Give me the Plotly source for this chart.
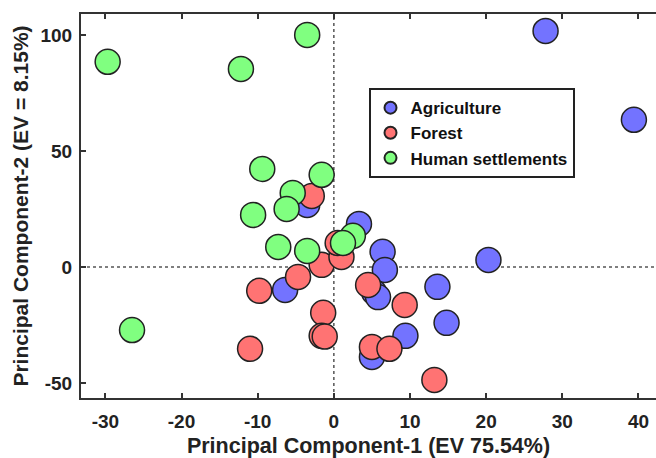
import plotly.graph_objects as go

# Agriculture
agri_x = [27.8, 39.4, 20.3, 13.6, 14.8, 9.4, 3.3, 6.4, 6.7, 5.3, 5.8, -6.4, 5.0, -3.5]
agri_y = [101.7, 63.4, 3.0, -8.6, -24.1, -29.7, 18.5, 6.5, -1.3, -11.0, -13.0, -9.9, -38.8, 26.7]

# Forest
forest_x = [-2.9, -1.6, 1.0, 0.5, -4.7, -9.8, 4.5, 9.3, -1.4, -1.6, -1.2, -11.0, 5.0, 7.3, 13.2]
forest_y = [30.6, 0.9, 4.3, 10.3, -4.3, -10.3, -7.8, -16.4, -19.8, -29.7, -30.0, -35.3, -34.5, -35.3, -48.7]

# Human settlements
human_x = [-29.7, -3.5, -12.2, -26.5, -9.4, -1.6, -5.4, -6.2, -10.6, -7.3, -3.5, 2.5, 1.2]
human_y = [88.4, 100.0, 85.3, -27.2, 42.2, 39.7, 31.9, 25.0, 22.4, 8.6, 6.9, 13.4, 10.3]

x_ticks = [-30, -20, -10, 0, 10, 20, 30, 40]
x_ticktext = ["-30", "-20", "-10", "0", "10", "20", "30", "40"]
y_ticks = [-50, 0, 50, 100]
y_ticktext = ["-50", "0", "50", "100"]

FONT = "Liberation Sans"

fig = go.Figure()
for name, xs, ys, col in [
    ("Agriculture", agri_x, agri_y, "#7373FF"),
    ("Forest", forest_x, forest_y, "#FF7373"),
    ("Human settlements", human_x, human_y, "#80FF80"),
]:
    fig.add_trace(go.Scatter(
        x=xs, y=ys, mode="markers", name=name,
        marker=dict(size=25, color=col, line=dict(color="#222222", width=1.5)),
    ))

fig.add_shape(type="line", x0=0, x1=0, y0=0, y1=1, xref="x", yref="paper",
              line=dict(color="#555555", width=1.5, dash="dot"), layer="below")
fig.add_shape(type="line", x0=0, x1=1, y0=0, y1=0, xref="paper", yref="y",
              line=dict(color="#555555", width=1.5, dash="dot"), layer="below")

fig.update_layout(
    width=656, height=458,
    margin=dict(l=81, r=0, t=14, b=60),
    plot_bgcolor="white", paper_bgcolor="white",
    font=dict(family=FONT, color="#222222"),
    showlegend=True,
    legend=dict(
        x=0.50, y=0.807, xanchor="left", yanchor="top",
        bordercolor="#222222", borderwidth=2, bgcolor="white",
        font=dict(family=FONT, size=17, color="#111111", weight="bold"),
        itemsizing="constant", tracegroupgap=0,
    ),
    xaxis=dict(
        range=[-33.2, 42.3], tickvals=x_ticks, ticktext=x_ticktext,
        ticks="inside", ticklen=5, ticklabelstandoff=5,
        tickwidth=1.5, tickcolor="#333333",
        showline=True, linecolor="#333333", linewidth=2, mirror="ticks",
        showgrid=False, zeroline=False,
        tickfont=dict(size=19, weight="bold", color="#222222"),
        title=dict(text="Principal Component-1 (EV 75.54%)", standoff=9,
                   font=dict(size=21.5, weight="bold", color="#222222")),
    ),
    yaxis=dict(
        range=[-56.5, 109], tickvals=y_ticks, ticktext=y_ticktext,
        ticks="inside", ticklen=5, ticklabelstandoff=3,
        tickwidth=1.5, tickcolor="#333333",
        showline=True, linecolor="#333333", linewidth=2, mirror=False,
        showgrid=False, zeroline=False,
        tickfont=dict(size=19, weight="bold", color="#222222"),
        title=dict(text="Principal Component-2 (EV = 8.15%)", standoff=6,
                   font=dict(size=21, weight="bold", color="#222222")),
    ),
)

fig.write_html("out.html")
